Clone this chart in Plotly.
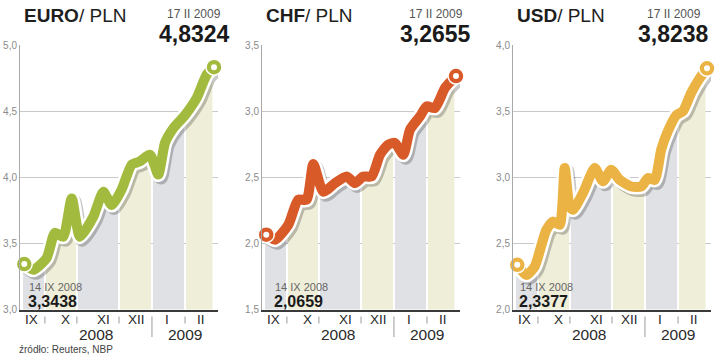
import numpy as np
import plotly.graph_objects as go

W, H = 720, 359

# ---------------- data (days since 14 IX 2008, exchange rate in PLN) ----------------
euro_days = [0, 7.4, 18.4, 25.2, 32, 39, 45.8, 56.7, 65, 71.9, 80, 88.3, 95.1, 103.4,
             110.2, 115.7, 122.5, 132.2, 141.8, 150, 156]
euro_vals = [3.3438, 3.30, 3.39, 3.58, 3.55, 3.84, 3.55, 3.70, 3.89, 3.79, 3.905, 4.095,
             4.12, 4.17, 4.02, 4.26, 4.37, 4.47, 4.60, 4.776, 4.8324]

chf_days = [0, 7.2, 18.1, 26.3, 33.2, 38.7, 46.9, 56.5, 66.1, 72.9, 79.8, 86.7, 93.5,
            100.3, 105.8, 112.7, 118.2, 126.4, 131.9, 138.7, 147, 156]
chf_vals = [2.0659, 2.027, 2.14, 2.33, 2.33, 2.60, 2.39, 2.456, 2.506, 2.456, 2.506, 2.506,
            2.67, 2.746, 2.76, 2.67, 2.86, 2.96, 3.036, 3.024, 3.176, 3.2655]

usd_days = [0, 7.4, 14.3, 23.8, 29.4, 34.9, 39, 43.1, 45.8, 54, 63.7, 70.5, 77.3, 84.2,
            93.8, 102, 107.5, 113, 118.4, 123.9, 130.8, 136.3, 143.1, 149.4, 156]
usd_vals = [2.3377, 2.26, 2.324, 2.60, 2.665, 2.64, 3.07, 2.78, 2.754, 2.88, 3.07, 2.97,
            3.057, 2.98, 2.93, 2.93, 2.994, 2.98, 3.21, 3.35, 3.47, 3.50, 3.64, 3.74, 3.8238]

titles = ["EURO", "CHF", "USD"]
last_values = ["4,8324", "3,2655", "3,8238"]
first_values = ["3,3438", "2,0659", "2,3377"]
last_date = "17 II 2009"
first_date = "14 IX 2008"

month_labels = ["IX", "X", "XI", "XII", "I", "II"]
month_edges = [-1, 17, 43.3, 77.9, 105, 132.2, 155.5]
month_label_days = [6.1, 34, 65, 92.4, 117, 145.3]
year_labels = ["2008", "2009"]
year_label_days = [59, 132.2]

y_ranges = [[3.0, 5.0], [1.5, 3.5], [2.0, 4.0]]
source = "źródło: Reuters, NBP"

# ---------------- styling ----------------
colors = ["#a2ba3d", "#d95a29", "#ebb343"]
band_colors = ["#dfe1e4", "#efeed8"]
panel_left = [20, 262, 513]
panel_w = 198
plot_top, plot_bottom = 45, 309.5
x_range = [-3.5, 159.3]
FONT = "Liberation Sans, Arial, sans-serif"


def px(x):
    return x / W


def py(y):
    return (H - y) / H


days_per_px = (x_range[1] - x_range[0]) / panel_w
val_per_px = 2.0 / (plot_bottom - plot_top)

fig = go.Figure()
annotations = []
shapes = []
series = [(euro_days, euro_vals), (chf_days, chf_vals), (usd_days, usd_vals)]

for i, (days, vals) in enumerate(series):
    n = "" if i == 0 else str(i + 1)
    xa, ya = "x" + n, "y" + n
    col = colors[i]
    left = panel_left[i]

    # coloured month bands under the curve
    inset = 0.8
    for k in range(len(month_labels)):
        a = month_edges[k] + (0 if k == 0 else inset)
        b = month_edges[k + 1] - inset
        xs = [a] + [d for d in days if a < d < b] + [b]
        ys = np.interp(xs, days, vals)
        fig.add_trace(go.Scatter(x=xs, y=ys, mode="lines", line=dict(width=0),
                                 fill="tozeroy", fillcolor=band_colors[k % 2],
                                 hoverinfo="skip", showlegend=False, xaxis=xa, yaxis=ya))

    dx = 2.5 * days_per_px
    dy = 3 * val_per_px
    # shadow
    fig.add_trace(go.Scatter(x=[d + dx for d in days], y=[v - dy for v in vals], mode="lines",
                             line=dict(color="rgba(0,0,0,0.22)", width=14, shape="spline", smoothing=0.6),
                             hoverinfo="skip", showlegend=False, xaxis=xa, yaxis=ya))
    # white outline
    fig.add_trace(go.Scatter(x=days, y=vals, mode="lines",
                             line=dict(color="white", width=15, shape="spline", smoothing=0.6),
                             hoverinfo="skip", showlegend=False, xaxis=xa, yaxis=ya))
    # main line
    fig.add_trace(go.Scatter(x=days, y=vals, mode="lines",
                             line=dict(color=col, width=10, shape="spline", smoothing=0.6),
                             hoverinfo="skip", showlegend=False, xaxis=xa, yaxis=ya))
    # end markers
    ends_x = [days[0], days[-1]]
    ends_y = [vals[0], vals[-1]]
    fig.add_trace(go.Scatter(x=ends_x, y=ends_y, mode="markers", cliponaxis=False,
                             marker=dict(size=16, color=col, line=dict(color="white", width=1.5)),
                             hoverinfo="skip", showlegend=False, xaxis=xa, yaxis=ya))
    fig.add_trace(go.Scatter(x=ends_x, y=ends_y, mode="markers", cliponaxis=False,
                             marker=dict(size=6, color="white"),
                             hoverinfo="skip", showlegend=False, xaxis=xa, yaxis=ya))

    lo, hi = y_ranges[i]
    ticks = list(np.arange(lo, hi + 0.001, 0.5))
    fig.layout["xaxis" + n] = dict(domain=[px(left), px(left + panel_w)], range=x_range,
                                    showgrid=False, zeroline=False, showticklabels=False,
                                    showline=True, linecolor="#3a3a3a", linewidth=2,
                                    anchor=ya, fixedrange=True, automargin=False)
    fig.layout["yaxis" + n] = dict(domain=[py(plot_bottom), py(plot_top)], range=[lo, hi],
                                    tickvals=ticks, ticktext=[f"{t:.1f}".replace(".", ",") for t in ticks],
                                    showgrid=True, gridcolor="#c9c9c9", gridwidth=1,
                                    zeroline=False, showline=True, linecolor="#a8a8a8", linewidth=1,
                                    ticks="", tickfont=dict(size=10, color="#8a8a8a", family=FONT),
                                    anchor=xa, fixedrange=True, automargin=False)

    # title
    annotations.append(dict(xref="paper", yref="paper", x=px(left + 2), y=py(15),
                            xanchor="left", yanchor="middle", showarrow=False,
                            text=f"<b>{titles[i]}</b>/ PLN",
                            font=dict(size=19, color="#1e1e1e", family=FONT)))
    cx = left + 174 if i != 2 else left + 160.5
    annotations.append(dict(xref="paper", yref="paper", x=px(cx), y=py(14.2),
                            xanchor="center", yanchor="middle", showarrow=False,
                            text=last_date, font=dict(size=12, color="#555555", family=FONT)))
    annotations.append(dict(xref="paper", yref="paper", x=px(cx), y=py(34.2),
                            xanchor="center", yanchor="middle", showarrow=False,
                            text=f"<b>{last_values[i]}</b>",
                            font=dict(size=23, color="#1a1a1a", family=FONT)))
    lx = [26.7, 273, 518][i]
    annotations.append(dict(xref="paper", yref="paper", x=px(lx), y=py(287),
                            xanchor="left", yanchor="middle", showarrow=False,
                            text=first_date, font=dict(size=11, color="#666666", family=FONT)))
    annotations.append(dict(xref="paper", yref="paper", x=px(lx - 1), y=py(301.5),
                            xanchor="left", yanchor="middle", showarrow=False,
                            text=f"<b>{first_values[i]}</b>",
                            font=dict(size=16, color="#1a1a1a", family=FONT)))

    for lab, d in zip(month_labels, month_label_days):
        annotations.append(dict(xref=xa, yref="paper", x=d, y=py(319.3),
                                xanchor="center", yanchor="middle", showarrow=False,
                                text=lab, font=dict(size=13.5, color="#2a2a2a", family=FONT)))
    for lab, d in zip(year_labels, year_label_days):
        annotations.append(dict(xref=xa, yref="paper", x=d, y=py(334.5),
                                xanchor="center", yanchor="middle", showarrow=False,
                                text=lab, font=dict(size=15.5, color="#2a2a2a", family=FONT)))
    for k in range(1, len(month_edges) - 1):
        long = (k == 4)
        shapes.append(dict(type="line", xref=xa, yref="paper",
                           x0=month_edges[k], x1=month_edges[k],
                           y0=py(337 if long else 323.5), y1=py(316.5),
                           line=dict(color="#9a9a9a", width=1)))

annotations.append(dict(xref="paper", yref="paper", x=px(16.5), y=py(349.5),
                        xanchor="left", yanchor="middle", showarrow=False,
                        text=source, font=dict(size=10, color="#444444", family=FONT)))

fig.update_layout(width=W, height=H, margin=dict(l=0, r=0, t=0, b=0, autoexpand=False),
                  paper_bgcolor="white", plot_bgcolor="white",
                  showlegend=False, annotations=annotations, shapes=shapes,
                  font=dict(family=FONT))

fig.write_html("out.html", config={"displayModeBar": False, "staticPlot": True},
               post_script="document.body.style.margin='0';document.body.style.overflow='hidden';")
